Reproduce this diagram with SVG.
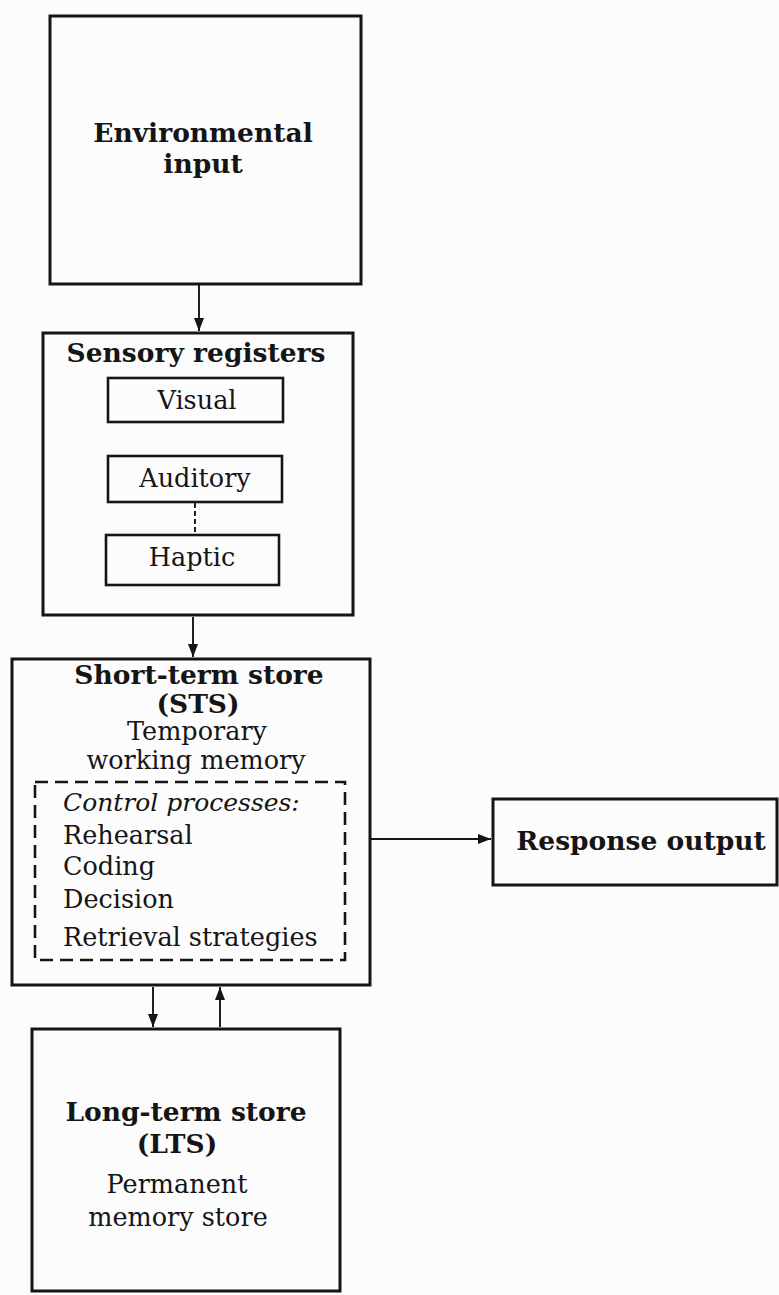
<svg xmlns="http://www.w3.org/2000/svg" width="779" height="1295" viewBox="0 0 779 1295">
  <style>
    .box { fill: none; stroke: #151515; stroke-width: 3; }
    .sub { fill: none; stroke: #151515; stroke-width: 2.6; }
    .dash { fill: none; stroke: #151515; stroke-width: 2.6; stroke-dasharray: 13 7; }
    .conn { stroke: #151515; stroke-width: 1.9; fill: none; }
    .b { font-family: "DejaVu Serif", "Liberation Serif", serif; font-weight: bold; font-size: 26.5px; fill: #151515; }
    .r { font-family: "DejaVu Serif", "Liberation Serif", serif; font-size: 25.5px; fill: #151515; }
    .i { font-family: "DejaVu Serif", "Liberation Serif", serif; font-style: italic; font-size: 25px; fill: #151515; }
    .c { text-anchor: middle; }
  </style>
  <defs>
    <marker id="arr" markerUnits="userSpaceOnUse" markerWidth="15" markerHeight="11" refX="13" refY="5" orient="auto">
      <path d="M0,0 L13,5 L0,10 z" fill="#151515"/>
    </marker>
  </defs>
  <rect width="779" height="1295" fill="#fcfcfc"/>

  <g id="environmental-input">
    <rect class="box" x="50" y="16" width="311" height="268"/>
    <text class="b c" x="203" y="142">Environmental</text>
    <text class="b c" x="203" y="173">input</text>
  </g>

  <g id="sensory-registers">
    <rect class="box" x="43" y="333" width="310" height="282"/>
    <text class="b c" x="196" y="362">Sensory registers</text>
    <g id="visual">
      <rect class="sub" x="108" y="378" width="175" height="44"/>
      <text class="r c" x="197" y="409">Visual</text>
    </g>
    <g id="auditory">
      <rect class="sub" x="108" y="456" width="174" height="46"/>
      <text class="r c" x="195" y="487">Auditory</text>
    </g>
    <g id="haptic">
      <rect class="sub" x="106" y="535" width="173" height="50"/>
      <text class="r c" x="192" y="566">Haptic</text>
    </g>
  </g>

  <g id="short-term-store">
    <rect class="box" x="12" y="659" width="358" height="326"/>
    <text class="b c" x="199" y="684">Short-term store</text>
    <text class="b c" x="198" y="713">(STS)</text>
    <text class="r c" x="197" y="740">Temporary</text>
    <text class="r c" x="196" y="769">working memory</text>
    <g id="control-processes">
      <rect class="dash" x="35" y="782" width="310" height="178"/>
      <text class="i" x="63" y="811">Control processes:</text>
      <text class="r" x="63" y="844">Rehearsal</text>
      <text class="r" x="63" y="875">Coding</text>
      <text class="r" x="63" y="908">Decision</text>
      <text class="r" x="63" y="946">Retrieval strategies</text>
    </g>
  </g>

  <g id="response-output">
    <rect class="box" x="493" y="799" width="284" height="86"/>
    <text class="b c" x="641" y="850">Response output</text>
  </g>

  <g id="long-term-store">
    <rect class="box" x="32" y="1029" width="308" height="262"/>
    <text class="b c" x="186" y="1121">Long-term store</text>
    <text class="b c" x="177" y="1153">(LTS)</text>
    <text class="r c" x="177" y="1193">Permanent</text>
    <text class="r c" x="178" y="1226">memory store</text>
  </g>

  <g id="connectors">
    <line class="conn" x1="199" y1="285" x2="199" y2="331" marker-end="url(#arr)"/>
    <line class="conn" x1="195" y1="503" x2="195" y2="534" stroke-dasharray="5 3"/>
    <line class="conn" x1="193" y1="617" x2="193" y2="657" marker-end="url(#arr)"/>
    <line class="conn" x1="371" y1="839" x2="491" y2="839" marker-end="url(#arr)"/>
    <line class="conn" x1="153" y1="987" x2="153" y2="1027" marker-end="url(#arr)"/>
    <line class="conn" x1="220" y1="1027" x2="220" y2="987" marker-end="url(#arr)"/>
  </g>
</svg>
